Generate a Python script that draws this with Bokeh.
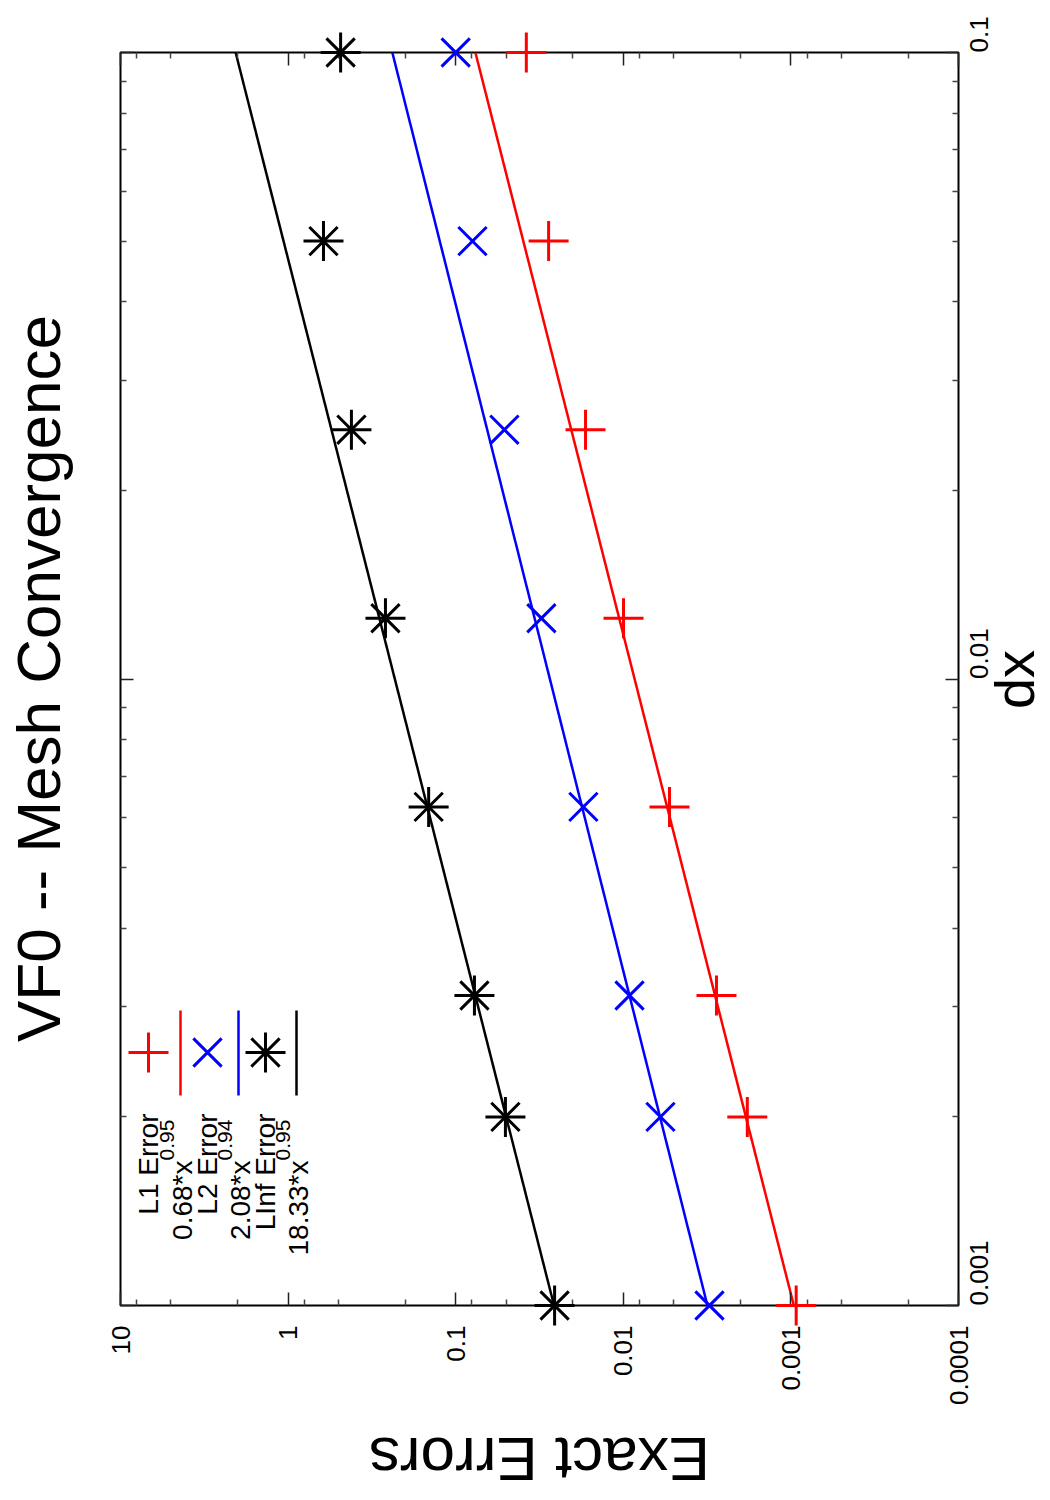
import math

from bokeh.core.properties import value
from bokeh.embed import file_html
from bokeh.models import FixedTicker, Label, LogAxis, Range1d
from bokeh.plotting import figure
from bokeh.resources import INLINE

# Mesh spacing and measured errors for each norm
dx = [0.001, 0.002, 0.003125, 0.00625, 0.0125, 0.025, 0.05, 0.1]
l1_err = [0.00093, 0.00182, 0.00278, 0.0053, 0.00997, 0.0168, 0.0279, 0.0379]
l2_err = [0.00306, 0.0060, 0.00918, 0.0173, 0.0308, 0.0512, 0.0794, 0.100]
linf_err = [0.0257, 0.0505, 0.0773, 0.145, 0.2625, 0.419, 0.615, 0.486]

series_names = ["L1 Error", "L2 Error", "LInf Error"]
series_errors = [l1_err, l2_err, linf_err]

# Power-law fits  err = c * dx^k
fit_coef = [0.68, 2.08, 18.33]
fit_exp = [0.95, 0.94, 0.95]
fit_coef_text = ["0.68*x", "2.08*x", "18.33*x"]
fit_exp_text = ["0.95", "0.94", "0.95"]

colors = ["#ff0000", "#0000ff", "#000000"]
markers = [["cross"], ["x"], ["cross", "x"]]

err_ticks = [10, 1, 0.1, 0.01, 0.001, 0.0001]
err_tick_labels = ["10", "1", "0.1", "0.01", "0.001", "0.0001"]
dx_ticks = [0.001, 0.01, 0.1]
dx_tick_labels = ["0.001", "0.01", "0.1"]

ERR_RANGE = (10, 1e-4)   # left -> right
DX_RANGE = (1e-3, 0.1)   # bottom -> top

W, H = 1050, 1500
BL, BR, BT, BB = 120, 92, 52, 195
FONT = "Liberation Sans"

p = figure(width=W, height=H, x_axis_type="log", y_axis_type="log",
           x_range=Range1d(*ERR_RANGE), y_range=Range1d(*DX_RANGE),
           y_axis_location="right", output_backend="svg", toolbar_location=None,
           min_border_left=BL, min_border_right=BR, min_border_top=BT,
           min_border_bottom=BB, background_fill_color="white",
           border_fill_color="white")
p.grid.visible = False
p.outline_line_color = "black"
p.outline_line_width = 2


def to_data(px, py):
    """Canvas pixel position -> (error, dx) in data space."""
    fl, fr, ft, fb = BL, W - BR, BT, H - BB
    fx = (px - fl) / (fr - fl)
    fy = (fb - py) / (fb - ft)
    lx0, lx1 = math.log10(ERR_RANGE[0]), math.log10(ERR_RANGE[1])
    ly0, ly1 = math.log10(DX_RANGE[0]), math.log10(DX_RANGE[1])
    return 10 ** (lx0 + fx * (lx1 - lx0)), 10 ** (ly0 + fy * (ly1 - ly0))


err_minor = [m * 10.0 ** k for k in range(-4, 1) for m in (2, 5, 8)]
dx_minor = [m * 10.0 ** k for k in (-3, -2) for m in range(2, 10)]


def style_axis(ax, ticks, minor, labels):
    ax.ticker = FixedTicker(ticks=ticks, minor_ticks=minor)
    ax.axis_line_color = None
    ax.major_tick_in, ax.major_tick_out = 13, 0
    ax.minor_tick_in, ax.minor_tick_out = 6, 0
    ax.major_tick_line_color = "#222222"
    ax.minor_tick_line_color = "#444444"
    ax.major_tick_line_width = 1.5
    ax.minor_tick_line_width = 1.5
    ax.major_label_overrides = {t: s for t, s in zip(ticks, labels)}
    ax.major_label_text_font = FONT
    ax.major_label_text_font_size = "26px"
    ax.major_label_text_color = "black"
    ax.major_label_orientation = math.pi / 2


style_axis(p.xaxis[0], err_ticks, err_minor, err_tick_labels)
p.xaxis[0].major_label_standoff = 20
style_axis(p.yaxis[0], dx_ticks, dx_minor, dx_tick_labels)
p.yaxis[0].major_label_standoff = 20

# mirrored tick marks on the opposite sides
top = LogAxis()
style_axis(top, err_ticks, err_minor, [""] * len(err_ticks))
p.add_layout(top, "above")
left = LogAxis()
style_axis(left, dx_ticks, dx_minor, [""] * len(dx_ticks))
p.add_layout(left, "left")

# fitted power laws and measured errors
for errs, c, k, col, mk in zip(series_errors, fit_coef, fit_exp, colors, markers):
    ends = [dx[0], dx[-1]]
    p.line([c * d ** k for d in ends], ends, line_color=col, line_width=2.5)
    for m in mk:
        p.scatter(errs, dx, marker=m, size=40, line_color=col, line_width=3,
                  level="overlay")


def outer_text(text, px, py, size, angle):
    """Title and axis names, drawn as overlay text outside the frame."""
    x, y = to_data(px, py)
    p.text(x=[x], y=[y], text=[text], angle=angle, text_align="center",
           text_baseline="alphabetic", text_font=value(FONT),
           text_font_size=value(f"{size}px"), text_color="black",
           level="overlay")


outer_text("VF0 -- Mesh Convergence", 38, 678, 62, math.pi / 2)
outer_text("dx", 1014, 679, 56, math.pi / 2)
outer_text("Exact Errors", 539, 1459, 62, math.pi)


def label(text, px, py, size, align):
    """Key text placed by canvas pixel position (frame-relative screen units)."""
    p.add_layout(Label(x=px - BL, y=(H - BB) - py, x_units="screen",
                       y_units="screen", text=text, angle=math.pi / 2,
                       text_align=align, text_baseline="middle",
                       text_font=FONT, text_font_size=f"{size}px",
                       text_color="black", level="overlay"))


# key, laid out along the left edge of the frame
name_cols = [148, 207, 265]
fit_cols = [180, 238, 296]
for i in range(3):
    label(series_names[i], name_cols[i], 1113, 28, "right")
    mx, my = to_data(name_cols[i], 1052)
    for m in markers[i]:
        p.scatter([mx], [my], marker=m, size=40, line_color=colors[i],
                  line_width=3, level="overlay")
    x0, y0 = to_data(fit_cols[i], 1010)
    x1, y1 = to_data(fit_cols[i], 1095)
    p.line([x0, x1], [y0, y1], line_color=colors[i], line_width=2.5)
    label(fit_coef_text[i], fit_cols[i] + 2, 1160, 28, "right")
    label(fit_exp_text[i], fit_cols[i] - 14, 1160, 21, "left")

open("out.html", "w").write(file_html(p, INLINE))
